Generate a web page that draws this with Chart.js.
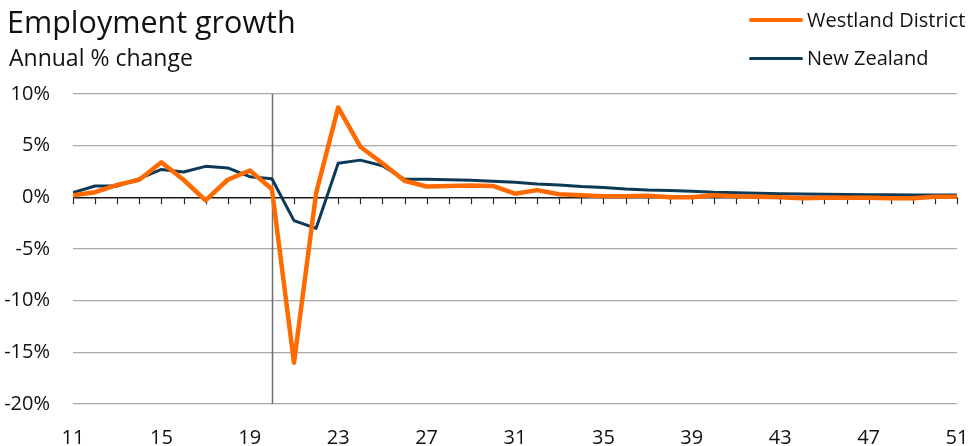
<!DOCTYPE html>
<html>
<head>
<meta charset="utf-8">
<script src="https://cdn.jsdelivr.net/npm/chart.js@4/dist/chart.umd.min.js"></script>
<style>
  html, body { margin: 0; padding: 0; background: #fff; }
  #wrap { position: relative; width: 968px; height: 446px; font-family: "Open Sans", sans-serif; color: #111; }
  #chart { position: absolute; left: 0; top: 0; }
  .title { position: absolute; left: 7px; top: 6px; font-size: 30.5px; line-height: 30px; white-space: nowrap; }
  .subtitle { position: absolute; left: 9px; top: 46px; font-size: 23px; line-height: 23px; white-space: nowrap; }
  .legend { position: absolute; left: 749px; font-size: 20px; line-height: 20px; white-space: nowrap; }
  .legend .swatch { position: absolute; left: 0; width: 54px; border-radius: 2px; }
  .legend .label { position: absolute; left: 58px; top: 0; }
</style>
</head>
<body>
<div id="wrap">
  <canvas id="chart" width="968" height="446"></canvas>
  <div class="title">Employment growth</div>
  <div class="subtitle">Annual % change</div>
  <div class="legend" style="top:10px"><span class="swatch" style="top:8px;height:4px;background:#FF6A00"></span><span class="label">Westland District</span></div>
  <div class="legend" style="top:48px"><span class="swatch" style="top:9px;height:3px;background:#0C3956"></span><span class="label">New Zealand</span></div>
</div>
<script>
// Years (2011 .. 2051, shown as two digits)
const years = [11,12,13,14,15,16,17,18,19,20,21,22,23,24,25,26,27,28,29,30,31,32,33,34,35,36,37,38,39,40,41,42,43,44,45,46,47,48,49,50,51];

// Annual % change in employment
const westland = [0.2,0.5,1.2,1.7,3.4,1.7,-0.3,1.7,2.6,0.8,-16.0,0.4,8.7,4.9,3.3,1.6,1.05,1.1,1.15,1.1,0.35,0.7,0.3,0.2,0.1,0.1,0.15,0.0,0.0,0.2,0.1,0.05,0.0,-0.1,-0.05,-0.05,-0.05,-0.1,-0.1,0.05,0.05];
const newZealand = [0.45,1.1,1.1,1.8,2.7,2.45,3.0,2.85,2.0,1.8,-2.25,-3.0,3.3,3.6,3.05,1.75,1.75,1.7,1.65,1.55,1.45,1.3,1.2,1.05,0.95,0.8,0.7,0.65,0.6,0.5,0.45,0.4,0.35,0.32,0.3,0.28,0.25,0.24,0.23,0.22,0.22];

// Axis ticks
const xTicks = [11,15,19,23,27,31,35,39,43,47,51];
const yTicks = [-20,-15,-10,-5,0,5,10];
const forecastStart = 20;

const toPoints = vals => years.map((y, i) => ({ x: y, y: vals[i] }));

// Short tick marks on the zero line for every year, plus the forecast divider
const markers = {
  id: 'markers',
  beforeDatasetsDraw(chart) {
    const { ctx, chartArea, scales: { x, y } } = chart;
    const y0 = y.getPixelForValue(0);
    ctx.save();
    ctx.strokeStyle = '#2b2b2b';
    ctx.lineWidth = 1.2;
    ctx.beginPath();
    years.forEach(yr => {
      const px = Math.round(x.getPixelForValue(yr)) + 0.5;
      ctx.moveTo(px, y0);
      ctx.lineTo(px, y0 + 7);
    });
    ctx.stroke();
    const fx = Math.round(x.getPixelForValue(forecastStart)) + 0.5;
    ctx.strokeStyle = '#6f6f6f';
    ctx.lineWidth = 1.5;
    ctx.beginPath();
    ctx.moveTo(fx, chartArea.top);
    ctx.lineTo(fx, chartArea.bottom);
    ctx.stroke();
    ctx.restore();
  }
};

new Chart(document.getElementById('chart'), {
  type: 'line',
  data: {
    datasets: [
      { label: 'New Zealand', data: toPoints(newZealand), borderColor: '#0C3956', borderWidth: 3, pointRadius: 0, tension: 0, borderJoinStyle: 'round', order: 2 },
      { label: 'Westland District', data: toPoints(westland), borderColor: '#FF6A00', borderWidth: 4.5, pointRadius: 0, tension: 0, borderJoinStyle: 'round', order: 1 }
    ]
  },
  options: {
    responsive: false,
    animation: false,
    layout: { padding: { top: 94, right: 11, left: 0, bottom: 0 } },
    plugins: { legend: { display: false }, tooltip: { enabled: false } },
    scales: {
      x: {
        type: 'linear',
        min: 11, max: 51,
        afterBuildTicks: s => { s.ticks = xTicks.map(v => ({ value: v })); },
        afterFit: s => { s.height = 42; s.paddingLeft = 0; s.paddingRight = 0; },
        grid: { display: false, drawTicks: false },
        border: { display: false },
        ticks: { padding: 22, color: '#111', font: { family: 'Open Sans', size: 20 }, maxRotation: 0, autoSkip: false }
      },
      y: {
        min: -20, max: 10,
        afterBuildTicks: s => { s.ticks = yTicks.map(v => ({ value: v })); },
        afterFit: s => { s.width = 73; s.paddingTop = 0; s.paddingBottom = 0; },
        grid: {
          drawTicks: false,
          color: c => c.tick && c.tick.value === 0 ? '#1a1a1a' : '#a9a9a9',
          lineWidth: c => c.tick && c.tick.value === 0 ? 1.5 : 1.2
        },
        border: { display: false },
        ticks: { padding: 23, color: '#111', font: { family: 'Open Sans', size: 20 }, callback: v => v + '%' }
      }
    }
  },
  plugins: [markers]
});
</script>
</body>
</html>
